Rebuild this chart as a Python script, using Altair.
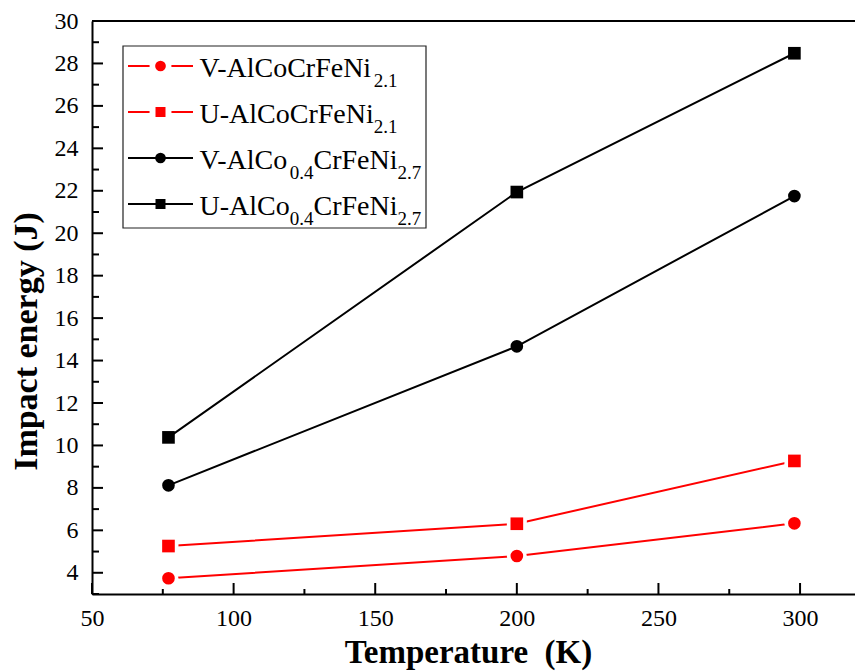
import altair as alt
import pandas as pd

# ---------------- data ----------------
temps = [77, 200, 298]
series = ["V-AlCoCrFeNi2.1", "U-AlCoCrFeNi2.1", "V-AlCo0.4CrFeNi2.7", "U-AlCo0.4CrFeNi2.7"]
v_21 = [3.74, 4.79, 6.33]
u_21 = [5.26, 6.31, 9.27]
v_27 = [8.12, 14.67, 21.75]
u_27 = [10.38, 21.94, 28.48]
colors = ["#ff0000", "#ff0000", "#000000", "#000000"]
shapes = ["circle", "square", "circle", "square"]

x_major = [50, 100, 150, 200, 250, 300]
x_minor = [75, 125, 175, 225, 275]
y_major = list(range(4, 31, 2))
y_minor = list(range(3, 30, 2))

# legend label pieces: (text, is_subscript)
legend_rows = [
    [("V-AlCoCrFeNi", False), ("2.1", True)],
    [("U-AlCoCrFeNi", False), ("2.1", True)],
    [("V-AlCo", False), ("0.4", True), ("CrFeNi", False), ("2.7", True)],
    [("U-AlCo", False), ("0.4", True), ("CrFeNi", False), ("2.7", True)],
]

values = [v_21, u_21, v_27, u_27]
rows = []
for s, vals in zip(series, values):
    for t, e in zip(temps, vals):
        rows.append({"S": s, "T": t, "E": e})
df = pd.DataFrame(rows)

# ---------------- layout ----------------
W, H = 763, 573
FONT = "Liberation Serif"
MAIN_FS, SUB_FS = 28, 19

xscale = alt.Scale(domain=[50, 319.4], nice=False, zero=False)
yscale = alt.Scale(domain=[3, 30], nice=False, zero=False)
cscale = alt.Scale(domain=series, range=colors)
sscale = alt.Scale(domain=series, range=shapes)

x_axis = alt.Axis(
    values=x_major, ticks=False, tickSize=0, grid=False,
    domainWidth=2, domainColor="black",
    labelFont=FONT, labelFontSize=24, labelColor="black", labelPadding=12,
    labelFlush=False, labelOverlap=False,
    title="Temperature\u00a0 (K)", titleFont=FONT, titleFontSize=33,
    titleFontWeight="bold", titleColor="black", titleBaseline="alphabetic",
    titleY=68, titleX=376, titleAlign="center",
)
y_axis = alt.Axis(
    values=y_major, ticks=False, tickSize=0, grid=False,
    domainWidth=2, domainColor="black",
    labelFont=FONT, labelFontSize=24, labelColor="black", labelPadding=14,
    labelFlush=False, labelOverlap=False,
    title="Impact energy (J)", titleFont=FONT, titleFontSize=34,
    titleFontWeight="bold", titleColor="black", titleAngle=270,
    titleBaseline="alphabetic", titleX=-56, titleY=320, titleAlign="center",
)

X = alt.X("T:Q", scale=xscale, axis=x_axis)
Y = alt.Y("E:Q", scale=yscale, axis=y_axis)

base = alt.Chart(df)

lines = base.mark_line(strokeWidth=2).encode(
    x=X, y=Y,
    color=alt.Color("S:N", scale=cscale, legend=None),
    detail="S:N",
)

halo = base.transform_filter(
    alt.FieldOneOfPredicate(field="S", oneOf=series[:2])
).mark_point(filled=True, opacity=1, color="white", size=400).encode(
    x=X, y=Y,
    shape=alt.Shape("S:N", scale=sscale, legend=None),
)

points = base.mark_point(filled=True, opacity=1, size=160).encode(
    x=X, y=Y,
    color=alt.Color("S:N", scale=cscale, legend=None),
    shape=alt.Shape("S:N", scale=sscale, legend=None),
)

# inward ticks
def xticks(vals, length):
    return alt.Chart(pd.DataFrame({"T": vals})).mark_rule(strokeWidth=2, color="black").encode(
        x=X, y=alt.value(H), y2=alt.value(H - length),
    )

def yticks(vals, length):
    return alt.Chart(pd.DataFrame({"E": vals})).mark_rule(strokeWidth=2, color="black").encode(
        y=Y, x=alt.value(0), x2=alt.value(length),
    )

one = pd.DataFrame({"k": [0]})
top_border = alt.Chart(one).mark_rule(strokeWidth=2, color="black").encode(
    x=alt.value(0), x2=alt.value(W), y=alt.value(0)
)

# ---------------- custom legend ----------------
CW = {"V": .722, "-": .333, "A": .722, "l": .278, "C": .667, "o": .5, "r": .333,
      "F": .556, "e": .444, "N": .722, "i": .278, "U": .722, ".": .25}
def text_w(t, fs):
    return sum(CW.get(c, .5) for c in t) * fs

legend_layers = [
    alt.Chart(one).mark_rect(fill="white", stroke="#222222", strokeWidth=1.2).encode(
        x=alt.value(31), x2=alt.value(334), y=alt.value(25), y2=alt.value(207)
    )
]
row_mid = [45, 91, 137, 183]
row_base = [56, 102, 148, 194]
for i, s in enumerate(series):
    col, shp = colors[i], shapes[i]
    legend_layers.append(
        alt.Chart(one).mark_rule(strokeWidth=2, color=col).encode(
            x=alt.value(36), x2=alt.value(101), y=alt.value(row_mid[i])
        )
    )
    if i < 2:
        legend_layers.append(
            alt.Chart(one).mark_point(filled=True, opacity=1, color="white", shape=shp, size=480).encode(
                x=alt.value(68.5), y=alt.value(row_mid[i])
            )
        )
    legend_layers.append(
        alt.Chart(one).mark_point(filled=True, opacity=1, color=col, shape=shp,
                                  size=115 if shp == "circle" else 100).encode(
            x=alt.value(68.5), y=alt.value(row_mid[i])
        )
    )
    xpos = 107.5
    for txt, sub in legend_rows[i]:
        fs = SUB_FS if sub else MAIN_FS
        yb = row_base[i] + (9.5 if sub else 0)
        legend_layers.append(
            alt.Chart(one).mark_text(align="left", baseline="alphabetic", font=FONT,
                                     fontSize=fs, color="black").encode(
                x=alt.value(xpos), y=alt.value(yb), text=alt.value(txt)
            )
        )
        xpos += text_w(txt, fs)

chart = alt.layer(
    lines, halo, points,
    xticks(x_major, 11), xticks(x_minor, 5),
    yticks(y_major, 11), yticks(y_minor, 7),
    top_border, *legend_layers,
).properties(
    width=W, height=H,
    autosize=alt.AutoSizeParams(type="none"),
    padding={"left": 84, "top": 13, "right": 0, "bottom": 77},
).configure_view(stroke=None)

chart.save("out.html", embed_options={"renderer": "svg", "actions": False})
